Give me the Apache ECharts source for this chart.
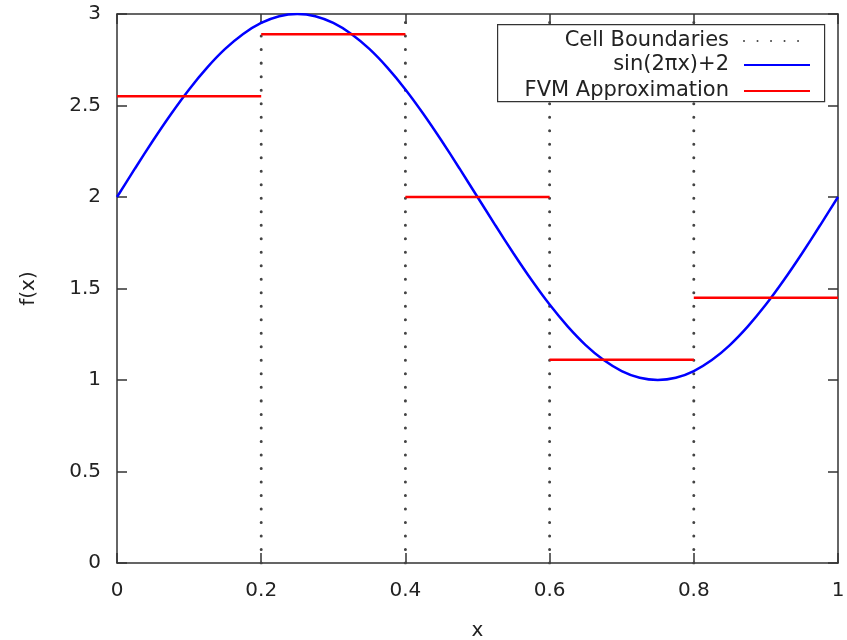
<!DOCTYPE html>
<html>
<head>
<meta charset="utf-8">
<script src="https://cdn.jsdelivr.net/npm/echarts@6/dist/echarts.min.js"></script>
<style>html,body{margin:0;padding:0;background:#fff}#c{width:847px;height:640px}</style>
</head>
<body>
<div id="c"></div>
<script>
// Data
const xTicks = [0, 0.2, 0.4, 0.6, 0.8, 1];
const yTicks = [0, 0.5, 1, 1.5, 2, 2.5, 3];
const cellBoundaries = [0.2, 0.4, 0.6, 0.8];
const cellEdges = [0, 0.2, 0.4, 0.6, 0.8, 1];
const fvmValues = [2.55, 2.89, 2.00, 1.11, 1.45];
const curveX = [0, 0.025, 0.05, 0.075, 0.1, 0.125, 0.15, 0.175, 0.2, 0.225, 0.25, 0.275, 0.3, 0.325, 0.35, 0.375, 0.4, 0.425, 0.45, 0.475, 0.5,
  0.525, 0.55, 0.575, 0.6, 0.625, 0.65, 0.675, 0.7, 0.725, 0.75, 0.775, 0.8, 0.825, 0.85, 0.875, 0.9, 0.925, 0.95, 0.975, 1];
const curveY = [2.000, 2.156, 2.309, 2.454, 2.588, 2.707, 2.809, 2.891, 2.951, 2.988, 3.000, 2.988, 2.951, 2.891, 2.809, 2.707, 2.588, 2.454, 2.309, 2.156, 2.000,
  1.844, 1.691, 1.546, 1.412, 1.293, 1.191, 1.109, 1.049, 1.012, 1.000, 1.012, 1.049, 1.109, 1.191, 1.293, 1.412, 1.546, 1.691, 1.844, 2.000];
const names = ['Cell Boundaries', 'sin(2\u03c0x)+2', 'FVM Approximation'];

const FONT = 'DejaVu Sans';
const AX = '#333';
const TXT = '#222';
const chart = echarts.init(document.getElementById('c'), null, {renderer: 'canvas'});

const series = [];
cellBoundaries.forEach(b => {
  series.push({
    name: names[0], type: 'line', symbol: 'none', animation: false, z: 2,
    data: [[b, yTicks[0]], [b, yTicks[yTicks.length - 1]]],
    lineStyle: {color: '#444', width: 3, type: [0.01, 13.5], cap: 'round'},
    itemStyle: {color: '#444'}
  });
});
series.push({
  name: names[1], type: 'line', symbol: 'none', animation: false, smooth: 0.2, z: 2,
  data: curveX.map((x, i) => [x, curveY[i]]),
  lineStyle: {color: '#0000ff', width: 2.5},
  itemStyle: {color: '#0000ff'}
});
fvmValues.forEach((v, i) => {
  series.push({
    name: names[2], type: 'line', symbol: 'none', animation: false, z: 2,
    data: [[cellEdges[i], v], [cellEdges[i + 1], v]],
    lineStyle: {color: '#ff0000', width: 2.5},
    itemStyle: {color: '#ff0000'}
  });
});

function legendFor(name, top) {
  return {
    data: [name], right: 36, top: top, orient: 'vertical', align: 'right',
    padding: 0, itemWidth: 66, itemHeight: 14, selectedMode: false, z: 20,
    itemStyle: {opacity: 0},
    textStyle: {fontFamily: FONT, fontSize: 21, color: TXT, lineHeight: 22, padding: [0, 10, 0, 0]}
  };
}

function axisBase() {
  return {
    type: 'value', min: 0,
    axisLine: {show: true, onZero: false, lineStyle: {color: AX, width: 1.5}},
    axisTick: {show: true, inside: true, length: 10, lineStyle: {color: AX, width: 1.5}},
    splitLine: {show: false}
  };
}

chart.setOption({
  animation: false,
  backgroundColor: '#fff',
  grid: {left: 117, right: 9, top: 14, bottom: 77, containLabel: false, outerBoundsMode: 'none'},
  xAxis: [
    Object.assign(axisBase(), {
      max: 1, interval: 0.2, position: 'bottom',
      name: 'x', nameLocation: 'middle', nameGap: 58,
      nameTextStyle: {fontFamily: FONT, fontSize: 20, color: TXT},
      axisLabel: {fontFamily: FONT, fontSize: 20, color: TXT, margin: 18,
        formatter: v => String(Math.round(v * 10) / 10)}
    }),
    Object.assign(axisBase(), {max: 1, interval: 0.2, position: 'top', axisLabel: {show: false}})
  ],
  yAxis: [
    Object.assign(axisBase(), {
      max: 3, interval: 0.5, position: 'left',
      name: 'f(x)', nameLocation: 'middle', nameGap: 78, nameRotate: 90,
      nameTextStyle: {fontFamily: FONT, fontSize: 20, color: TXT},
      axisLabel: {fontFamily: FONT, fontSize: 20, color: TXT, margin: 16}
    }),
    Object.assign(axisBase(), {max: 3, interval: 0.5, position: 'right', axisLabel: {show: false}})
  ],
  legend: [legendFor(names[0], 30), legendFor(names[1], 54), legendFor(names[2], 80)],
  graphic: {
    z: 10,
    elements: [{
      type: 'rect', left: 497, top: 24, silent: true, z: 10,
      shape: {width: 327, height: 77},
      style: {fill: '#ffffff', stroke: '#333', lineWidth: 1.2}
    }]
  },
  series: series
});
</script>
</body>
</html>
